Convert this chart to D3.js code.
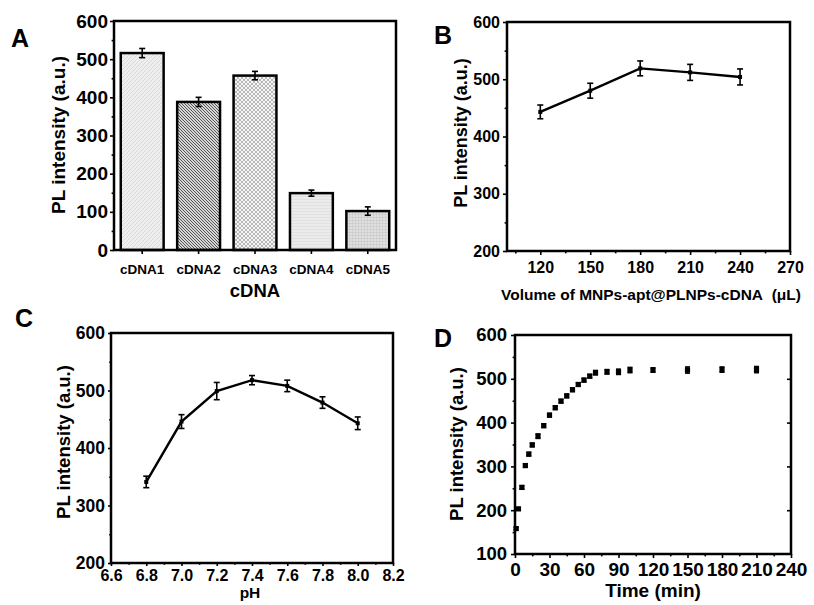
<!DOCTYPE html>
<html>
<head>
<meta charset="utf-8">
<script src="https://cdn.jsdelivr.net/npm/d3@7/dist/d3.min.js"></script>
<style>
body { margin: 0; background: #fff; }
svg text { font-family: "Liberation Sans", Arial, sans-serif; font-weight: bold; fill: #000; }
</style>
</head>
<body>
<div id="main"></div>
<script>
// panel A - bar chart
const cdnaLabels = ["cDNA1", "cDNA2", "cDNA3", "cDNA4", "cDNA5"];
const cdnaValues = [516, 388, 457, 149, 102];
const cdnaErrors = [12, 12, 11, 8, 11];

// panel B - volume
const volX = [120, 150, 180, 210, 240];
const volY = [443, 480, 519, 512, 504];
const volErr = [12, 13, 13, 14, 14];

// panel C - pH
const phX = [6.8, 7.0, 7.2, 7.4, 7.6, 7.8, 8.0];
const phY = [341, 446, 499, 518, 508, 479, 443];
const phErr = [10, 12, 15, 8, 10, 10, 11];

// panel D - time
const timeX = [1, 3, 6, 9, 12, 15, 20, 25, 30, 35, 40, 45, 50, 55, 60, 65, 70, 80, 90, 100, 120, 150, 180, 210];
const timeY = [158, 203, 252, 302, 328, 349, 369, 393, 417, 434, 449, 461, 475, 487, 497, 506, 514, 516, 516, 520, 520, 520, 521, 521];
const timeErr = [3, 3, 4, 4, 4, 4, 5, 4, 4, 4, 4, 4, 4, 4, 4, 4, 5, 5, 6, 6, 5, 7, 6, 7];

const yTitle = "PL intensity (a.u.)";

var ctx = { w: 814, h: 605 };

var svg = d3.select("#main").append("svg")
    .attr("width", ctx.w)
    .attr("height", ctx.h);
svg.append("rect").attr("width", ctx.w).attr("height", ctx.h).attr("fill", "#fff");

// bar fill patterns
var defs = svg.append("defs");
function hatch(id, bg, col, size, d, sw) {
    var p = defs.append("pattern").attr("id", id).attr("patternUnits", "userSpaceOnUse")
        .attr("width", size).attr("height", size);
    p.append("rect").attr("width", size).attr("height", size).attr("fill", bg);
    p.append("path").attr("d", d).attr("stroke", col).attr("stroke-width", sw).attr("fill", "none");
}
hatch("p1", "#efefef", "#d2d2d2", 4, "M-1,1 l2,-2 M0,4 l4,-4 M3,5 l2,-2", 0.8);
hatch("p2", "#d6d6d6", "#555", 3, "M-1,-1 l2,2 M0,0 l3,3 M2,-1 l2,2", 1);
hatch("p3", "#f6f6f6", "#b0b0b0", 4, "M0,0 l4,4 M4,0 l-4,4", 0.9);
hatch("p4", "#ebebeb", "#dadada", 3, "M0,1.5 h3", 0.6);
hatch("p5", "#e0e0e0", "#c8c8c8", 3, "M0,1.5 h3 M1.5,0 v3", 0.6);

function frame(x0, y0, x1, y1) {
    svg.append("rect").attr("x", x0).attr("y", y0)
        .attr("width", x1 - x0).attr("height", y1 - y0)
        .attr("fill", "none").attr("stroke", "#000").attr("stroke-width", 2.5);
}

function styleAxis(g, fs) {
    g.select(".domain").remove();
    g.attr("font-size", fs);
    g.selectAll(".tick line").attr("stroke", "#000").attr("stroke-width", 1.6);
    g.selectAll(".tick text").attr("fill", "#000");
}

function axisLeft(y, x0, ticks, minor, size, pad, fs) {
    var g = svg.append("g").attr("transform", "translate(" + x0 + ",0)")
        .call(d3.axisLeft(y).tickValues(ticks).tickSize(size).tickPadding(pad).tickFormat(d3.format("d")));
    styleAxis(g, fs);
    if (minor) {
        var m = svg.append("g").attr("transform", "translate(" + x0 + ",0)")
            .call(d3.axisLeft(y).tickValues(minor).tickSize(size * 0.6).tickFormat(""));
        styleAxis(m, fs);
    }
}

function axisBottom(x, y0, ticks, minor, size, pad, fs, fmt) {
    var g = svg.append("g").attr("transform", "translate(0," + y0 + ")")
        .call(d3.axisBottom(x).tickValues(ticks).tickSize(size).tickPadding(pad).tickFormat(fmt));
    styleAxis(g, fs);
    if (minor) {
        var m = svg.append("g").attr("transform", "translate(0," + y0 + ")")
            .call(d3.axisBottom(x).tickValues(minor).tickSize(size * 0.6).tickFormat(""));
        styleAxis(m, fs);
    }
}

function label(txt, x, y, fs, rot) {
    var t = svg.append("text").attr("font-size", fs).attr("text-anchor", rot ? "middle" : "start").text(txt);
    if (rot) t.attr("transform", "translate(" + x + "," + y + ") rotate(-90)");
    else t.attr("x", x).attr("y", y);
    return t;
}

function errorBars(x, y, xs, ys, es, cap) {
    var g = svg.append("g").attr("stroke", "#000").attr("stroke-width", 1.6);
    xs.forEach(function(xv, i) {
        var cx = x(xv), top = y(ys[i] + es[i]), bot = y(ys[i] - es[i]);
        g.append("line").attr("x1", cx).attr("x2", cx).attr("y1", top).attr("y2", bot);
        g.append("line").attr("x1", cx - cap).attr("x2", cx + cap).attr("y1", top).attr("y2", top);
        g.append("line").attr("x1", cx - cap).attr("x2", cx + cap).attr("y1", bot).attr("y2", bot);
    });
}

function range(a, b, s) { return d3.range(a, b + s / 2, s); }

// ---------- A ----------
(function() {
    var L = 114, R = 396, T = 21, B = 250;
    var x = d3.scaleBand().domain(cdnaLabels).range([L, R]).paddingInner(0.24).paddingOuter(0.12);
    var y = d3.scaleLinear().domain([0, 600]).range([B, T]);
    svg.append("g").selectAll("rect").data(cdnaLabels).enter().append("rect")
        .attr("x", d => x(d))
        .attr("y", (d, i) => y(cdnaValues[i]))
        .attr("width", x.bandwidth())
        .attr("height", (d, i) => y(0) - y(cdnaValues[i]))
        .attr("fill", (d, i) => "url(#p" + (i + 1) + ")")
        .attr("stroke", "#000").attr("stroke-width", 2.5);
    var xc = d3.scaleOrdinal().domain(cdnaLabels).range(cdnaLabels.map(d => x(d) + x.bandwidth() / 2));
    errorBars(d => xc(d), y, cdnaLabels, cdnaValues, cdnaErrors, 3);
    axisLeft(y, L, range(0, 600, 100), range(50, 550, 100), 4, 2, 19);
    var g = svg.append("g").attr("transform", "translate(0," + B + ")")
        .call(d3.axisBottom(x).tickSize(4).tickPadding(10));
    styleAxis(g, 13.5);
    frame(L, T, R, B);
    label(yTitle, 65, 135, 19, true);
    label("cDNA", 255, 297, 18.5).attr("text-anchor", "middle");
    label("A", 11, 47, 25);
})();

// ---------- B ----------
(function() {
    var L = 507, R = 790, T = 22, B = 251;
    var x = d3.scaleLinear().domain([100, 270]).range([L, R]);
    var y = d3.scaleLinear().domain([200, 600]).range([B, T]);
    svg.append("path").datum(volX)
        .attr("fill", "none").attr("stroke", "#000").attr("stroke-width", 2.4)
        .attr("d", d3.line().x(d => x(d)).y((d, i) => y(volY[i])));
    errorBars(x, y, volX, volY, volErr, 3);
    svg.append("g").selectAll("rect").data(volX).enter().append("rect")
        .attr("x", d => x(d) - 2).attr("y", (d, i) => y(volY[i]) - 2)
        .attr("width", 4).attr("height", 4).attr("fill", "#000");
    axisLeft(y, L, range(200, 600, 100), range(250, 550, 100), 4, 3, 16);
    axisBottom(x, B, range(120, 270, 30), range(105, 255, 30), 4, 7, 16, d3.format("d"));
    frame(L, T, R, B);
    label(yTitle, 467, 133, 18, true);
    label("Volume of MNPs-apt@PLNPs-cDNA\u00a0\u00a0(\u03bcL)", 651, 300, 15.5).attr("text-anchor", "middle");
    label("B", 434, 44, 25);
})();

// ---------- C ----------
(function() {
    var L = 111, R = 393, T = 333, B = 563;
    var x = d3.scaleLinear().domain([6.6, 8.2]).range([L, R]);
    var y = d3.scaleLinear().domain([200, 600]).range([B, T]);
    svg.append("path").datum(phX)
        .attr("fill", "none").attr("stroke", "#000").attr("stroke-width", 2.4)
        .attr("d", d3.line().x(d => x(d)).y((d, i) => y(phY[i])));
    errorBars(x, y, phX, phY, phErr, 3);
    svg.append("g").selectAll("rect").data(phX).enter().append("rect")
        .attr("x", d => x(d) - 2).attr("y", (d, i) => y(phY[i]) - 2)
        .attr("width", 4).attr("height", 4).attr("fill", "#000");
    axisLeft(y, L, range(200, 600, 100), range(250, 550, 100), 3, 3, 17.5);
    axisBottom(x, B, range(6.6, 8.2, 0.2), range(6.7, 8.1, 0.2), 3, 4, 16, d3.format(".1f"));
    frame(L, T, R, B);
    label(yTitle, 70, 442, 18.5, true);
    label("pH", 250, 598, 15.5).attr("text-anchor", "middle");
    label("C", 15, 327, 25);
})();

// ---------- D ----------
(function() {
    var L = 515, R = 791, T = 335, B = 554;
    var x = d3.scaleLinear().domain([0, 240]).range([L, R]);
    var y = d3.scaleLinear().domain([100, 600]).range([B, T]);
    errorBars(x, y, timeX, timeY, timeErr, 2.5);
    svg.append("g").selectAll("rect").data(timeX).enter().append("rect")
        .attr("x", d => x(d) - 2.6).attr("y", (d, i) => y(timeY[i]) - 2.6)
        .attr("width", 5.2).attr("height", 5.2).attr("fill", "#000");
    axisLeft(y, L, range(100, 600, 100), range(150, 550, 100), 4, 4, 18.5);
    var rg = svg.append("g").attr("transform", "translate(" + R + ",0)")
        .call(d3.axisLeft(y).tickValues(range(200, 500, 100)).tickSize(4).tickFormat(""));
    styleAxis(rg, 10);
    axisBottom(x, B, range(0, 240, 30), range(15, 225, 30), 4, 5, 19, d3.format("d"));
    frame(L, T, R, B);
    label(yTitle, 463, 444, 18.5, true);
    label("Time (min)", 653, 597, 19).attr("text-anchor", "middle");
    label("D", 434, 347, 25);
})();
</script>
</body>
</html>
